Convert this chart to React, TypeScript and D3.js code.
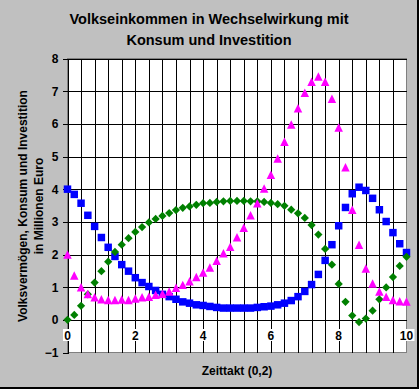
import React, { useEffect, useRef } from 'react';
import * as d3 from 'd3';

// Zeittakt in Schritten von 0,2
const zeittakt = [
  0, 0.2, 0.4, 0.6, 0.8, 1, 1.2, 1.4, 1.6, 1.8, 2, 2.2, 2.4, 2.6, 2.8, 3, 3.2, 3.4, 3.6, 3.8,
  4, 4.2, 4.4, 4.6, 4.8, 5, 5.2, 5.4, 5.6, 5.8, 6, 6.2, 6.4, 6.6, 6.8, 7, 7.2, 7.4, 7.6, 7.8,
  8, 8.2, 8.4, 8.6, 8.8, 9, 9.2, 9.4, 9.6, 9.8, 10,
];

const volksvermoegen = [
  4.0, 3.84, 3.57, 3.2, 2.86, 2.52, 2.22, 1.94, 1.69, 1.49, 1.29, 1.14, 1.02, 0.9, 0.78, 0.71, 0.63, 0.55, 0.51, 0.46,
  0.44, 0.41, 0.38, 0.36, 0.36, 0.36, 0.36, 0.36, 0.38, 0.4, 0.42, 0.46, 0.51, 0.59, 0.71, 0.87, 1.08, 1.39, 1.82, 2.3,
  2.88, 3.44, 3.86, 4.06, 3.96, 3.72, 3.37, 3.01, 2.67, 2.33, 2.06,
];

const konsum = [
  0.0, 0.15, 0.43, 0.78, 1.14, 1.49, 1.78, 2.08, 2.3, 2.5, 2.69, 2.84, 2.98, 3.09, 3.18, 3.27, 3.36, 3.43, 3.47, 3.52,
  3.57, 3.58, 3.61, 3.63, 3.64, 3.64, 3.64, 3.63, 3.63, 3.61, 3.58, 3.54, 3.49, 3.37, 3.26, 3.12, 2.9, 2.61, 2.17, 1.69,
  1.1, 0.55, 0.13, -0.07, 0.04, 0.28, 0.63, 0.99, 1.31, 1.65, 1.93,
];

const investition = [
  2.0, 1.36, 1.0, 0.79, 0.69, 0.63, 0.61, 0.61, 0.62, 0.61, 0.65, 0.69, 0.71, 0.77, 0.8, 0.87, 0.98, 1.07, 1.18, 1.31,
  1.45, 1.6, 1.81, 2.04, 2.24, 2.53, 2.82, 3.2, 3.57, 4.02, 4.44, 4.94, 5.45, 5.98, 6.48, 6.95, 7.29, 7.45, 7.29, 6.77,
  5.89, 4.67, 3.37, 2.3, 1.57, 1.11, 0.87, 0.71, 0.61, 0.57, 0.56,
];

const xTicks = [0, 2, 4, 6, 8, 10];
const yTicks = [-1, 0, 1, 2, 3, 4, 5, 6, 7, 8];
const titleLines = ['Volkseinkommen in Wechselwirkung mit', 'Konsum und Investition'];
const yTitleLines = ['Volksvermögen, Konsum und Investition', 'in Millionen Euro'];
const xTitle = 'Zeittakt (0,2)';

// Excel-like isosceles triangle
const excelTriangle = {
  draw(ctx: any, size: number) {
    const r = Math.sqrt(size) / 2;
    ctx.moveTo(0, -r);
    ctx.lineTo(r, r);
    ctx.lineTo(-r, r);
    ctx.closePath();
  },
};

const App: React.FC = () => {
  const svgRef = useRef<SVGSVGElement>(null);

  useEffect(() => {
    if (!svgRef.current) return;
    const svg = d3.select(svgRef.current);
    svg.selectAll('*').remove();

    const width = 419;
    const height = 389;
    const font = 'Arial, "Liberation Sans", sans-serif';

    const x = d3.scaleLinear().domain([0, 10]).range([67.5, 406.5]);
    const y = d3.scaleLinear().domain([-1, 8]).range([352.5, 58.5]);

    // chart area
    svg.append('rect').attr('width', width).attr('height', height).attr('fill', '#c0c0c0');
    svg.append('rect').attr('x', 417).attr('y', 0).attr('width', 2).attr('height', height).attr('fill', '#000');
    svg.append('rect').attr('x', 0).attr('y', 387).attr('width', width).attr('height', 2).attr('fill', '#000');

    // plot area
    svg.append('rect')
      .attr('x', x(0)).attr('y', y(8))
      .attr('width', x(10) - x(0)).attr('height', y(-1) - y(8))
      .attr('fill', '#fff').attr('stroke', '#808080').attr('stroke-width', 1)
      .attr('shape-rendering', 'crispEdges');

    const grid = svg.append('g').attr('shape-rendering', 'crispEdges').attr('stroke', '#000');
    const vLines = d3.range(1, 25).map(i => i * 0.4);
    grid.selectAll('line.v').data(vLines).join('line')
      .attr('x1', d => Math.round(x(d)) + 0.5).attr('x2', d => Math.round(x(d)) + 0.5)
      .attr('y1', y(8)).attr('y2', y(-1));
    grid.selectAll('line.h').data(yTicks.filter(t => t >= 0)).join('line')
      .attr('x1', x(0)).attr('x2', x(10))
      .attr('y1', d => Math.round(y(d)) + 0.5).attr('y2', d => Math.round(y(d)) + 0.5);

    // y axis
    svg.append('g')
      .attr('transform', `translate(${x(0)},0)`)
      .call(d3.axisLeft(y).tickValues(yTicks).tickSize(5).tickPadding(4).tickFormat(d3.format('d')))
      .call(g => g.select('.domain').attr('stroke', '#000'))
      .call(g => g.selectAll('line').attr('stroke', '#000'))
      .call(g => g.selectAll('text')
        .attr('font-family', font).attr('font-size', 12).attr('font-weight', 'bold').attr('fill', '#000'))
      .attr('shape-rendering', 'crispEdges');

    // x tick labels with opaque background
    const xl = svg.append('g');
    xTicks.forEach(t => {
      const w = t >= 10 ? 16 : 9;
      xl.append('rect')
        .attr('x', x(t) - w / 2).attr('y', 329).attr('width', w).attr('height', 12).attr('fill', '#fff');
      xl.append('text')
        .attr('x', x(t)).attr('y', 339.5)
        .attr('text-anchor', 'middle')
        .attr('font-family', font).attr('font-size', 12).attr('font-weight', 'bold')
        .text(d3.format('d')(t));
    });

    // series
    const series = [
      { values: volksvermoegen, color: '#0000ff', type: d3.symbolSquare, size: 56, rot: 0 },
      { values: konsum, color: '#008000', type: d3.symbolSquare, size: 34, rot: 45 },
      { values: investition, color: '#ff00ff', type: excelTriangle, size: 72, rot: 0 },
    ];
    series.forEach(s => {
      const sym = d3.symbol().type(s.type as any).size(s.size);
      svg.append('g').selectAll('path').data(s.values).join('path')
        .attr('d', sym() as string)
        .attr('transform', (d, i) => `translate(${x(zeittakt[i])},${y(d)}) rotate(${s.rot})`)
        .attr('fill', s.color);
    });

    // titles
    titleLines.forEach((t, i) => {
      svg.append('text')
        .attr('x', 209).attr('y', 24 + i * 21)
        .attr('text-anchor', 'middle')
        .attr('font-family', font).attr('font-size', 14.5).attr('font-weight', 'bold')
        .text(t);
    });

    yTitleLines.forEach((t, i) => {
      svg.append('text')
        .attr('transform', `translate(${26.5 + i * 16},206) rotate(-90)`)
        .attr('text-anchor', 'middle')
        .attr('font-family', font).attr('font-size', 12).attr('font-weight', 'bold')
        .text(t);
    });

    svg.append('text')
      .attr('x', 237).attr('y', 375)
      .attr('text-anchor', 'middle')
      .attr('font-family', font).attr('font-size', 12).attr('font-weight', 'bold')
      .text(xTitle);
  }, []);

  return (
    <div style={{ position: 'fixed', left: 0, top: 0 }}>
      <svg ref={svgRef} width={419} height={389} style={{ display: 'block' }} />
    </div>
  );
};

export default App;
